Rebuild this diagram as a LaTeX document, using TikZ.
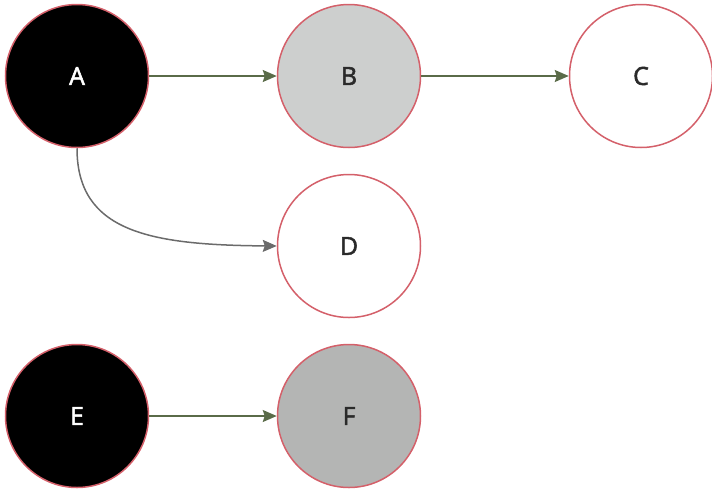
\documentclass[tikz,border=0pt]{standalone}
\usepackage{fontspec}
\setmainfont{Open Sans}
\newfontfamily\lblfont[FakeBold=2]{Open Sans}
\usetikzlibrary{arrows.meta}
\definecolor{ring}{HTML}{D4606A}
\definecolor{lgreen}{HTML}{5A6B48}
\definecolor{lgray}{HTML}{6B6B6B}
\definecolor{fillB}{HTML}{CDCFCE}
\definecolor{fillF}{HTML}{B4B5B4}
\definecolor{txt}{HTML}{2A2A2A}
\tikzset{
  circ/.style={circle, draw=ring, line width=1.5pt, minimum size=143pt, inner sep=0pt, font=\lblfont\fontsize{25pt}{28pt}\selectfont, text=txt},
  darkc/.style={circ, fill=black, text=white},
  edge/.style={line width=1.5pt, -{Stealth[length=14pt,width=12pt,inset=2pt]}},
}
\begin{document}
\begin{tikzpicture}[x=1pt,y=-1pt]
\useasboundingbox (0,0) rectangle (712,488);
\node[darkc] (A) at (77,76) {A};
\node[circ, fill=fillB] (B) at (349,76) {B};
\node[circ, fill=white] (C) at (641,76) {C};
\node[circ, fill=white] (D) at (349,246) {D};
\node[darkc] (E) at (77,416) {E};
\node[circ, fill=fillF] (F) at (349,416) {F};
\draw[edge, draw=lgreen] (A) -- (B);
\draw[edge, draw=lgreen] (B) -- (C);
\draw[edge, draw=lgreen] (E) -- (F);
\draw[edge, draw=lgray] (A.south) .. controls (77,232) and (150,245) .. (D.west);
\end{tikzpicture}
\end{document}
